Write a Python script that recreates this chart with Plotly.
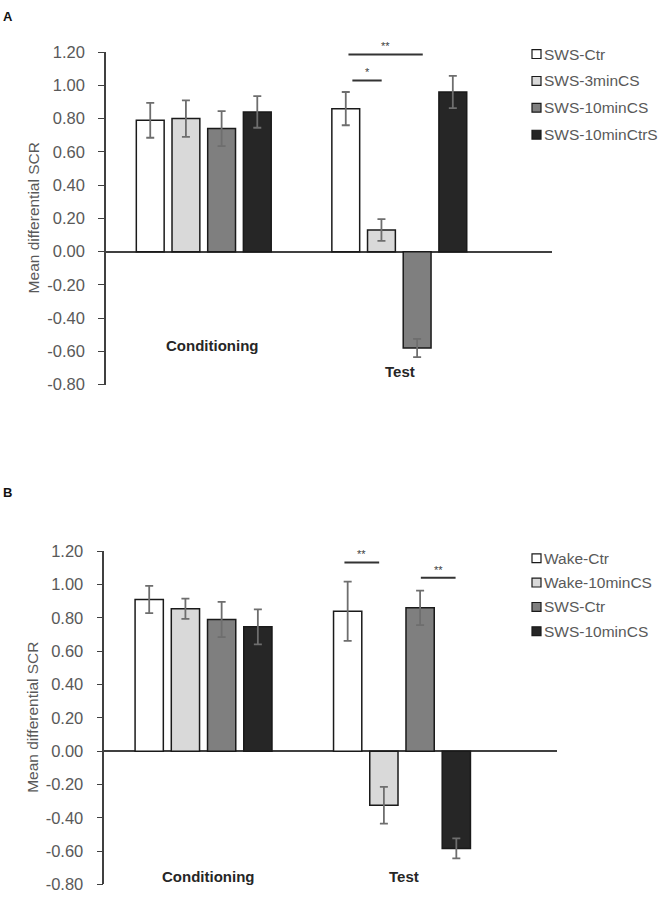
import plotly.graph_objects as go

# ---------------- data ----------------
categories = ["Conditioning", "Test"]

# Panel A
a_names = ["SWS-Ctr", "SWS-3minCS", "SWS-10minCS", "SWS-10minCtrS"]
a_sws_ctr = [0.79, 0.86]
a_sws_ctr_err = [0.105, 0.10]
a_sws_3min = [0.80, 0.13]
a_sws_3min_err = [0.11, 0.065]
a_sws_10min = [0.74, -0.58]
a_sws_10min_err = [0.105, 0.055]
a_sws_10minctrs = [0.84, 0.96]
a_sws_10minctrs_err = [0.095, 0.097]

# Panel B
b_names = ["Wake-Ctr", "Wake-10minCS", "SWS-Ctr", "SWS-10minCS"]
b_wake_ctr = [0.91, 0.84]
b_wake_ctr_err = [0.082, 0.178]
b_wake_10min = [0.855, -0.325]
b_wake_10min_err = [0.061, 0.11]
b_sws_ctr = [0.79, 0.86]
b_sws_ctr_err = [0.106, 0.104]
b_sws_10min = [0.746, -0.584]
b_sws_10min_err = [0.105, 0.06]

# significance brackets (x in category units, y in data units)
a_sig_x0 = [0.74, 0.76]
a_sig_x1 = [1.12, 0.91]
a_sig_y = [1.186, 1.03]
a_sig_text = ["**", "*"]
b_sig_x0 = [0.71, 1.095]
b_sig_x1 = [0.885, 1.27]
b_sig_y = [1.133, 1.041]
b_sig_text = ["**", "**"]

y_tickvals = [-0.8, -0.6, -0.4, -0.2, 0.0, 0.2, 0.4, 0.6, 0.8, 1.0, 1.2]
y_ticktext = ["-0.80", "-0.60", "-0.40", "-0.20", "0.00", "0.20", "0.40",
              "0.60", "0.80", "1.00", "1.20"]

# ---------------- style ----------------
W, H = 658, 900
FONT = "Arial, 'Liberation Sans', sans-serif"
fills = ["#ffffff", "#d9d9d9", "#7f7f7f", "#262626"]
edge = "#1a1a1a"
err_col = "#6e6e6e"
grey_text = "#595959"

a_vals = [a_sws_ctr, a_sws_3min, a_sws_10min, a_sws_10minctrs]
a_errs = [a_sws_ctr_err, a_sws_3min_err, a_sws_10min_err, a_sws_10minctrs_err]
b_vals = [b_wake_ctr, b_wake_10min, b_sws_ctr, b_sws_10min]
b_errs = [b_wake_ctr_err, b_wake_10min_err, b_sws_ctr_err, b_sws_10min_err]

fig = go.Figure()


def px_x(p):
    return p / W


def px_y(p):
    return 1 - p / H


panels = [
    dict(names=a_names, vals=a_vals, errs=a_errs, xa="x", ya="y",
         xdom=[px_x(106), px_x(552)], ydom=[px_y(383.3), px_y(44)],
         sig=(a_sig_x0, a_sig_x1, a_sig_y, a_sig_text),
         label="A", label_pos=(7.5, 8),
         cat_pos=[(0, 8, 343), (1, 1, 370)],
         leg_x=532, leg_y0=46, leg_step=27.4),
    dict(names=b_names, vals=b_vals, errs=b_errs, xa="x2", ya="y2",
         xdom=[px_x(104.3), px_x(557)], ydom=[px_y(893.3), px_y(553.3)],
         sig=(b_sig_x0, b_sig_x1, b_sig_y, b_sig_text),
         label="B", label_pos=(7.5, 493),
         cat_pos=[(0, 4, 885), (1, 2, 885)],
         leg_x=532, leg_y0=560.5, leg_step=24.8),
]

annotations = []
shapes = []
layout_axes = {}

for i, p in enumerate(panels):
    for k in range(4):
        fig.add_trace(go.Bar(
            x=categories, y=p["vals"][k], name=p["names"][k],
            xaxis=p["xa"], yaxis=p["ya"], showlegend=False,
            marker=dict(color=fills[k], line=dict(color=edge, width=1.5)),
            error_y=dict(type="data", array=p["errs"][k], color=err_col,
                         thickness=1.8, width=4),
        ))
    sfx = "" if i == 0 else "2"
    layout_axes["xaxis" + sfx] = dict(
        domain=p["xdom"], anchor=p["ya"], type="category",
        categoryorder="array", categoryarray=categories,
        range=[-0.5, 1.781], showticklabels=False, ticks="",
        showline=False, showgrid=False, zeroline=False, fixedrange=True)
    layout_axes["yaxis" + sfx] = dict(
        domain=p["ydom"], anchor=p["xa"], range=[-0.8, 1.2],
        tickvals=y_tickvals, ticktext=y_ticktext,
        ticks="outside", ticklen=6, tickwidth=1.3, tickcolor="#404040",
        showline=True, linecolor="#404040", linewidth=1.5,
        showgrid=False, zeroline=True, zerolinecolor="#404040",
        zerolinewidth=1.5, ticklabelstandoff=10,
        tickfont=dict(family=FONT, size=16.5, color=grey_text))

    # y axis title
    ymid = (p["ydom"][0] + p["ydom"][1]) / 2
    annotations.append(dict(
        text="Mean differential SCR", xref="paper", yref="paper",
        x=px_x(33), y=ymid, textangle=-90, showarrow=False,
        xanchor="center", yanchor="middle",
        font=dict(family=FONT, size=15.5, color=grey_text)))

    # panel label
    annotations.append(dict(
        text="<b>%s</b>" % p["label"], xref="paper", yref="paper",
        x=px_x(p["label_pos"][0]), y=px_y(p["label_pos"][1]),
        showarrow=False, xanchor="center", yanchor="middle",
        font=dict(family=FONT, size=13, color="#111111")))

    # category labels
    for ci, dx, ypx in p["cat_pos"]:
        annotations.append(dict(
            text="<b>%s</b>" % categories[ci], xref=p["xa"], yref="paper",
            x=ci, xshift=dx, y=px_y(ypx), showarrow=False,
            xanchor="center", yanchor="middle",
            font=dict(family=FONT, size=15, color="#262626")))

    # significance brackets
    x0s, x1s, ys, txts = p["sig"]
    for x0, x1, yv, t in zip(x0s, x1s, ys, txts):
        shapes.append(dict(type="line", xref=p["xa"], yref=p["ya"],
                           x0=x0, x1=x1, y0=yv, y1=yv,
                           line=dict(color="#333333", width=2)))
        annotations.append(dict(
            text=t, xref=p["xa"], yref=p["ya"], x=(x0 + x1) / 2, y=yv,
            showarrow=False, xanchor="center", yanchor="bottom",
            yshift=0, font=dict(family=FONT, size=11, color="#404040")))

    # legend
    for k, nm in enumerate(p["names"]):
        cy = p["leg_y0"] + k * p["leg_step"]
        shapes.append(dict(type="rect", xref="paper", yref="paper",
                           x0=px_x(p["leg_x"]), x1=px_x(p["leg_x"] + 9),
                           y0=px_y(cy + 4.5), y1=px_y(cy - 4.5),
                           fillcolor=fills[k],
                           line=dict(color=edge, width=1.2)))
        annotations.append(dict(
            text=nm, xref="paper", yref="paper",
            x=px_x(p["leg_x"] + 9.5), y=px_y(cy), showarrow=False,
            xanchor="left", yanchor="middle",
            font=dict(family=FONT, size=15.5, color=grey_text)))

fig.update_layout(
    width=W, height=H, margin=dict(l=0, r=0, t=0, b=0),
    paper_bgcolor="white", plot_bgcolor="white",
    barmode="group", bargap=0.27, bargroupgap=0.22,
    annotations=annotations, shapes=shapes, showlegend=False,
    **layout_axes)

fig.write_html(
    "out.html",
    config={"displayModeBar": False},
    post_script="document.body.style.margin='0';"
                "document.body.style.overflow='hidden';")
